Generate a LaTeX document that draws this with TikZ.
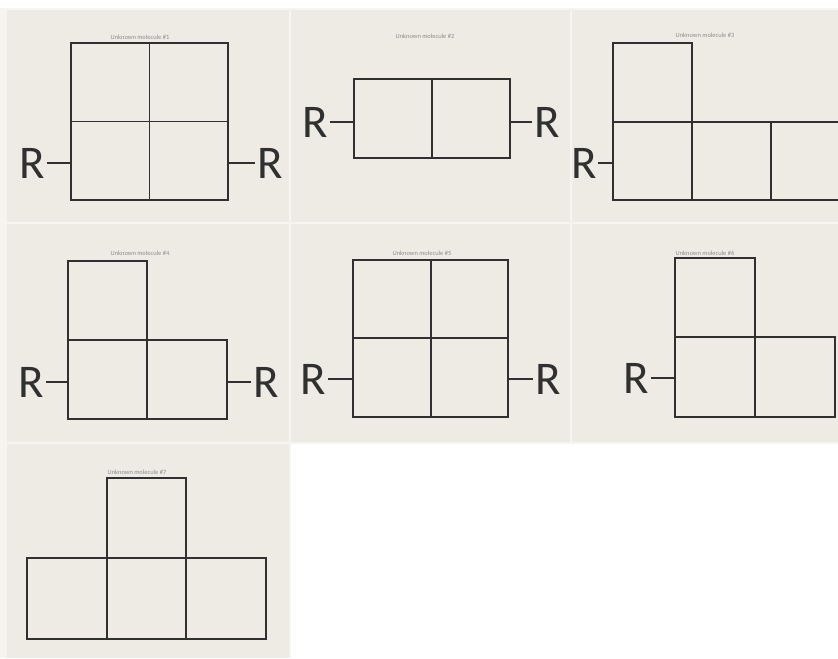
\documentclass[tikz,border=0pt]{standalone}
\usepackage{fontspec}
\setmainfont{Carlito}
\definecolor{ink}{HTML}{303030}
\definecolor{paper}{HTML}{EEEBE5}
\definecolor{seam}{HTML}{F6F4EF}
\begin{document}
\begin{tikzpicture}[x=0.03cm,y=-0.03cm,
        cell/.style={draw=ink,line width=1pt},
        bond/.style={draw=ink,line width=1.6pt},
        rgroup/.style={inner sep=0pt,font=\fontsize{40}{40}\selectfont,text=ink},
        title/.style={inner sep=0pt,font=\fontsize{5.5}{6}\selectfont,text=black!45}]
        \useasboundingbox (0,0) rectangle (838,658);
        \fill[white] (0,0) rectangle (838,658);
        \fill[seam] (0,8) rectangle (838,444);
        \fill[seam] (0,444) rectangle (291,658);

        % sheets
        \fill[paper] (7,10) rectangle (289,222);
        \fill[paper] (291,10) rectangle (570,222);
        \fill[paper] (572,10) rectangle (838,222);
        \fill[paper] (7,224) rectangle (289,442);
        \fill[paper] (291,224) rectangle (570,442);
        \fill[paper] (572,224) rectangle (838,442);
        \fill[paper] (7,444) rectangle (289,658);

        % molecule 1
        \node[title] (t1) at (140,37) {Unknown molecule \#1};
        \draw[cell] (71,43) rectangle (228,200);
        \draw[cell] (149.5,43) -- (149.5,200);
        \draw[cell] (71,121.5) -- (228,121.5);
        \node[rgroup,anchor=east] (r1a) at (45,163) {R};
        \node[rgroup,anchor=west] (r1b) at (257,163) {R};
        \coordinate (b1a) at (71,163);
        \coordinate (b1b) at (228,163);
        \draw[bond] ([xshift=2pt]r1a.east) -- (b1a);
        \draw[bond] (b1b) -- ([xshift=-2pt]r1b.west);

        % molecule 2
        \node[title] (t2) at (425,36) {Unknown molecule \#2};
        \draw[cell] (354,79) rectangle (510,158);
        \draw[cell] (432,79) -- (432,158);
        \node[rgroup,anchor=east] (r2a) at (328,122) {R};
        \node[rgroup,anchor=west] (r2b) at (534,122) {R};
        \coordinate (b2a) at (354,122);
        \coordinate (b2b) at (510,122);
        \draw[bond] ([xshift=2pt]r2a.east) -- (b2a);
        \draw[bond] (b2b) -- ([xshift=-2pt]r2b.west);

        % molecule 3
        \node[title] (t3) at (705,35) {Unknown molecule \#3};
        \draw[cell] (613,43) rectangle (692,122);
        \draw[cell] (838,122) -- (613,122) -- (613,200) -- (838,200);
        \draw[cell] (692,122) -- (692,200);
        \draw[cell] (771,122) -- (771,200);
        \node[rgroup,anchor=east] (r3a) at (597,163) {R};
        \coordinate (b3a) at (613,163);
        \draw[bond] ([xshift=1pt]r3a.east) -- (b3a);

        % molecule 4
        \node[title] (t4) at (140,253) {Unknown molecule \#4};
        \draw[cell] (68,261) rectangle (147,340);
        \draw[cell] (68,340) rectangle (227,419);
        \draw[cell] (147,340) -- (147,419);
        \node[rgroup,anchor=east] (r4a) at (44,382) {R};
        \node[rgroup,anchor=west] (r4b) at (253,382) {R};
        \coordinate (b4a) at (68,382);
        \coordinate (b4b) at (227,382);
        \draw[bond] ([xshift=2pt]r4a.east) -- (b4a);
        \draw[bond] (b4b) -- ([xshift=-2pt]r4b.west);

        % molecule 5
        \node[title] (t5) at (422,253) {Unknown molecule \#5};
        \draw[cell] (353,260) rectangle (508,417);
        \draw[cell] (431,260) -- (431,417);
        \draw[cell] (353,338) -- (508,338);
        \node[rgroup,anchor=east] (r5a) at (326,379) {R};
        \node[rgroup,anchor=west] (r5b) at (535,379) {R};
        \coordinate (b5a) at (353,379);
        \coordinate (b5b) at (508,379);
        \draw[bond] ([xshift=2pt]r5a.east) -- (b5a);
        \draw[bond] (b5b) -- ([xshift=-2pt]r5b.west);

        % molecule 6
        \node[title] (t6) at (705,253) {Unknown molecule \#6};
        \draw[cell] (675,258) rectangle (755,337);
        \draw[cell] (675,337) rectangle (835,417);
        \draw[cell] (755,337) -- (755,417);
        \node[rgroup,anchor=east] (r6a) at (649,378) {R};
        \coordinate (b6a) at (675,378);
        \draw[bond] ([xshift=2pt]r6a.east) -- (b6a);

        % molecule 7
        \node[title] (t7) at (137,472) {Unknown molecule \#7};
        \draw[cell] (107,478) rectangle (186,558);
        \draw[cell] (27,558) rectangle (266,639);
        \draw[cell] (107,558) -- (107,639);
        \draw[cell] (186,558) -- (186,639);
\end{tikzpicture}
\end{document}
